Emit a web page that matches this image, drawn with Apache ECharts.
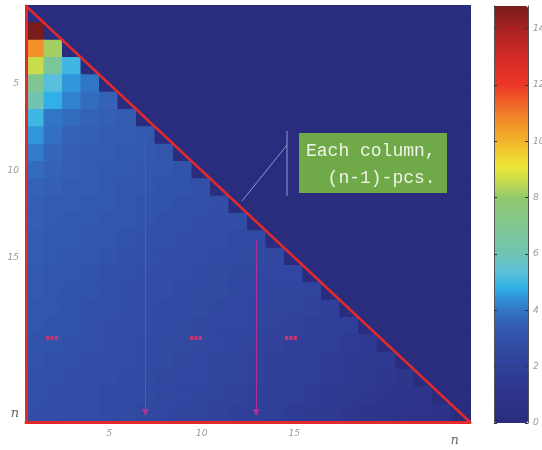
<!DOCTYPE html>
<html><head><meta charset="utf-8">
<script src="https://cdn.jsdelivr.net/npm/echarts@6/dist/echarts.min.js"></script>
<style>html,body{margin:0;padding:0;background:#fff}#c{width:542px;height:450px}</style>
</head><body><div id="c"></div>
<script>
// ---- data ----
const categories = ['1','2','3','4','5','6','7','8','9','10','11','12','13','14','15','16','17','18','19','20','21','22','23','24'];
const tickCategories = ['5','10','15','20'];
const xTickLabels = {'5':'5','10':'10','15':'15','24':'n'};
const yTickLabels = {'5':'5','10':'10','15':'15','24':'n'};
// lower-triangular matrix: row i holds values for columns 1..i-1 (rest are 0)
const row01 = [];
const row02 = [14.8];
const row03 = [10.6, 8.2];
const row04 = [8.6, 6.7, 5.0];
const row05 = [7.0, 5.3, 4.5, 4.0];
const row06 = [6.1, 4.8, 4.2, 3.8, 3.6];
const row07 = [5.0, 4.0, 3.8, 3.6, 3.5, 3.4];
const row08 = [4.5, 3.9, 3.6, 3.5, 3.4, 3.4, 3.3];
const row09 = [4.1, 3.7, 3.5, 3.4, 3.4, 3.3, 3.3, 3.2];
const row10 = [3.8, 3.6, 3.5, 3.4, 3.3, 3.3, 3.2, 3.2, 3.1];
const row11 = [3.6, 3.5, 3.4, 3.4, 3.3, 3.2, 3.2, 3.1, 3.1, 3.0];
const row12 = [3.5, 3.4, 3.4, 3.3, 3.3, 3.2, 3.1, 3.1, 3.0, 3.0, 2.9];
const row13 = [3.5, 3.4, 3.3, 3.3, 3.2, 3.2, 3.1, 3.0, 3.0, 2.9, 2.9, 2.8];
const row14 = [3.4, 3.3, 3.3, 3.2, 3.2, 3.1, 3.0, 3.0, 2.9, 2.8, 2.8, 2.7, 2.7];
const row15 = [3.4, 3.3, 3.2, 3.2, 3.1, 3.0, 3.0, 2.9, 2.8, 2.8, 2.7, 2.6, 2.6, 2.5];
const row16 = [3.3, 3.2, 3.2, 3.1, 3.0, 3.0, 2.9, 2.8, 2.8, 2.7, 2.6, 2.5, 2.5, 2.4, 2.4];
const row17 = [3.3, 3.2, 3.1, 3.1, 3.0, 2.9, 2.9, 2.8, 2.7, 2.6, 2.6, 2.5, 2.4, 2.3, 2.3, 2.2];
const row18 = [3.2, 3.2, 3.1, 3.0, 3.0, 2.9, 2.8, 2.7, 2.7, 2.6, 2.5, 2.4, 2.3, 2.3, 2.2, 2.1, 2.0];
const row19 = [3.2, 3.1, 3.1, 3.0, 2.9, 2.8, 2.8, 2.7, 2.6, 2.5, 2.4, 2.4, 2.3, 2.2, 2.1, 2.0, 1.9, 1.8];
const row20 = [3.1, 3.1, 3.0, 3.0, 2.9, 2.8, 2.7, 2.6, 2.6, 2.5, 2.4, 2.3, 2.2, 2.1, 2.0, 1.9, 1.8, 1.7, 1.6];
const row21 = [3.1, 3.0, 3.0, 2.9, 2.8, 2.8, 2.7, 2.6, 2.5, 2.4, 2.3, 2.2, 2.1, 2.0, 1.9, 1.8, 1.7, 1.6, 1.5, 1.4];
const row22 = [3.0, 3.0, 2.9, 2.9, 2.8, 2.7, 2.6, 2.5, 2.4, 2.4, 2.3, 2.2, 2.1, 2.0, 1.9, 1.8, 1.7, 1.5, 1.4, 1.3, 1.2];
const row23 = [3.0, 2.9, 2.9, 2.8, 2.7, 2.7, 2.6, 2.5, 2.4, 2.3, 2.2, 2.1, 2.0, 1.9, 1.8, 1.7, 1.5, 1.4, 1.3, 1.2, 1.1, 1.0];
const row24 = [2.9, 2.9, 2.8, 2.8, 2.7, 2.6, 2.5, 2.4, 2.3, 2.2, 2.1, 2.0, 1.9, 1.8, 1.7, 1.6, 1.5, 1.3, 1.2, 1.1, 1.0, 0.9, 0.8];
const rows = [row01,row02,row03,row04,row05,row06,row07,row08,row09,row10,row11,row12,
              row13,row14,row15,row16,row17,row18,row19,row20,row21,row22,row23,row24];
const colorMin = 0, colorMax = 14.8, colorTickStep = 2;
// annotation anchors in cell units (0..24 from top-left)
const diagonal = [[0, 0], [24, 24]];
const arrowCols = [6.45, 12.45];
const arrowStarts = [7.6, 13.5];
const arrowEnd = 23.45;
const dotsX = [1.41, 9.19, 14.32];
const dotsY = 19.16;
const calloutLines = ['Each column,', '  (n-1)-pcs.'];

// ---- colour map (washed jet) ----
const stops = [
  [0, '#2a2c7e'], [1, '#2d3489'], [2, '#30409a'], [3, '#3250a8'], [3.6, '#3462b6'],
  [4.0, '#3176c4'], [4.4, '#3090d6'], [4.8, '#30b0e6'], [5.3, '#58c0dc'], [6.0, '#70c4b4'],
  [7.0, '#80c690'], [8.0, '#92c86c'], [8.6, '#c8dc4c'], [9.1, '#ece838'], [10.0, '#f4b42a'],
  [11.0, '#f07c28'], [12.0, '#ec3626'], [13.0, '#d22a26'], [14.0, '#a82222'], [14.8, '#7a1c1c']
];
function hex(c){return [parseInt(c.slice(1,3),16),parseInt(c.slice(3,5),16),parseInt(c.slice(5,7),16)];}
function colAt(v){
  for (let k=0;k<stops.length-1;k++){
    const a=stops[k], b=stops[k+1];
    if (v<=b[0]){ const t=(v-a[0])/(b[0]-a[0]); const ca=hex(a[1]), cb=hex(b[1]);
      return 'rgb('+ca.map((x,i)=>Math.round(x+(cb[i]-x)*t)).join(',')+')'; }
  }
  return stops[stops.length-1][1];
}
const N = 149; const mapColors = [];
for (let k=0;k<N;k++) mapColors.push(colAt(colorMin + (colorMax-colorMin)*k/(N-1)));

// ---- build ----
const heat = [];
rows.forEach((r, i) => categories.forEach((c, j) => {
  const v = j < r.length ? r[j] : 0;
  heat.push({value:[j, i, v], itemStyle:{borderColor:colAt(v), borderWidth:1.5}});
}));

const lab = {color:'#9a9a9a', fontStyle:'italic', fontSize:9, fontFamily:'DejaVu Sans'};
const noSplit = {splitLine:{show:false}, splitArea:{show:false}, minorSplitLine:{show:false}};
const chart = echarts.init(document.getElementById('c'));
chart.setOption({
  animation:false,
  backgroundColor:'#fff',
  grid:[{left:26, top:6, width:444, height:416, outerBoundsMode:'none', containLabel:false},
        {left:494, top:6, width:34, height:417, outerBoundsMode:'none', containLabel:false}],
  xAxis:[
    Object.assign({type:'category', data:categories, gridIndex:0, position:'bottom', z:10,
     axisLine:{onZero:false, lineStyle:{color:'#e2292c', width:3}},
     axisTick:{inside:true, length:3, alignWithLabel:true, interval:(i,v)=>tickCategories.includes(v), lineStyle:{color:'#222'}},
     axisLabel:Object.assign({interval:(i,v)=>v in xTickLabels, margin:7,
       formatter:v=> v==='24' ? '{n|n}' : xTickLabels[v],
       rich:{n:{fontSize:13, color:'#666', fontStyle:'italic', fontFamily:'DejaVu Serif', padding:[5,12,0,0]}}}, lab)}, noSplit),
    Object.assign({type:'value', gridIndex:0, min:0, max:24, show:false, position:'top', axisLine:{onZero:false}}, noSplit),
    Object.assign({type:'value', gridIndex:1, min:0, max:1, show:false, axisLine:{onZero:false}}, noSplit)
  ],
  yAxis:[
    Object.assign({type:'category', data:categories, inverse:true, gridIndex:0, position:'left', z:10,
     axisLine:{onZero:false, lineStyle:{color:'#e2292c', width:3}},
     axisTick:{inside:true, length:3, alignWithLabel:true, interval:(i,v)=>tickCategories.includes(v), lineStyle:{color:'#222'}},
     axisLabel:Object.assign({interval:(i,v)=>v in yTickLabels, margin:7,
       formatter:v=> v==='24' ? '{n|n}' : yTickLabels[v],
       rich:{n:{fontSize:13, color:'#666', fontStyle:'italic', fontFamily:'DejaVu Serif'}}}, lab)}, noSplit),
    Object.assign({type:'category', data:categories, inverse:true, gridIndex:0, position:'right', z:10,
     axisLine:{show:false, onZero:false}, axisLabel:{show:false},
     axisTick:{inside:true, length:3, alignWithLabel:true, interval:(i,v)=>tickCategories.includes(v), lineStyle:{color:'#222'}}}, noSplit),
    Object.assign({type:'value', gridIndex:0, min:0, max:24, inverse:true, show:false, position:'right', offset:40, axisLine:{onZero:false}}, noSplit),
    Object.assign({type:'value', gridIndex:1, min:colorMin, max:colorMax, interval:colorTickStep, position:'left', z:10,
     axisLine:{show:true, onZero:false, lineStyle:{color:'#555', width:1}}, axisTick:{show:true, inside:true, length:3, lineStyle:{color:'#333'}},
     axisLabel:{show:false}}, noSplit),
    Object.assign({type:'value', gridIndex:1, min:colorMin, max:colorMax, interval:colorTickStep, position:'right', z:10,
     axisLine:{show:true, onZero:false, lineStyle:{color:'#555', width:1}}, axisTick:{show:true, inside:true, length:3, lineStyle:{color:'#333'}},
     axisLabel:Object.assign({showMaxLabel:false, margin:5}, lab)}, noSplit)
  ],
  visualMap:{type:'continuous', min:colorMin, max:colorMax, seriesIndex:0, inRange:{color:mapColors},
    left:494, top:6, itemWidth:34, itemHeight:417, calculable:false, padding:0, hoverLink:false, z:1},
  series:[
    {type:'heatmap', xAxisIndex:0, yAxisIndex:0, data:heat, emphasis:{disabled:true}, silent:true, progressive:0},
    {type:'line', xAxisIndex:1, yAxisIndex:2, data:diagonal, symbol:'none', silent:true, z:10,
     lineStyle:{color:'#e2292c', width:2.5},
     markLine:{silent:true, symbol:['none','triangle'], symbolSize:7, label:{show:false},
       lineStyle:{color:'#b0309a', width:1, type:'solid'}, itemStyle:{color:'#e2305a'},
       data: arrowCols.map((x,k)=>[{coord:[x, arrowStarts[k]]},{coord:[x, arrowEnd]}])}},
    {type:'scatter', xAxisIndex:1, yAxisIndex:2, data:dotsX.map(x=>[x, dotsY]), silent:true, z:11,
     symbol:'path://M0,0h3v3h-3zM4,0h3v3h-3zM8,0h3v3h-3z', symbolSize:[12,4], itemStyle:{color:'#ec2f62'}}
  ],
  graphic:[
    {type:'line', shape:{x1:287, y1:131, x2:287, y2:196}, style:{stroke:'#8c9ad0', lineWidth:1}, z:20},
    {type:'line', shape:{x1:287, y1:145, x2:242, y2:201}, style:{stroke:'#8c9ad0', lineWidth:1}, z:20},
    {type:'rect', shape:{x:299, y:133, width:148, height:60}, style:{fill:'#70aa48'}, z:20},
    {type:'text', x:306, y:151, style:{text:calloutLines[0], fill:'#eef4e6', font:'18px "Liberation Mono"', verticalAlign:'middle'}, z:21},
    {type:'text', x:306, y:178, style:{text:calloutLines[1], fill:'#eef4e6', font:'18px "Liberation Mono"', verticalAlign:'middle'}, z:21}
  ]
});
</script></body></html>
